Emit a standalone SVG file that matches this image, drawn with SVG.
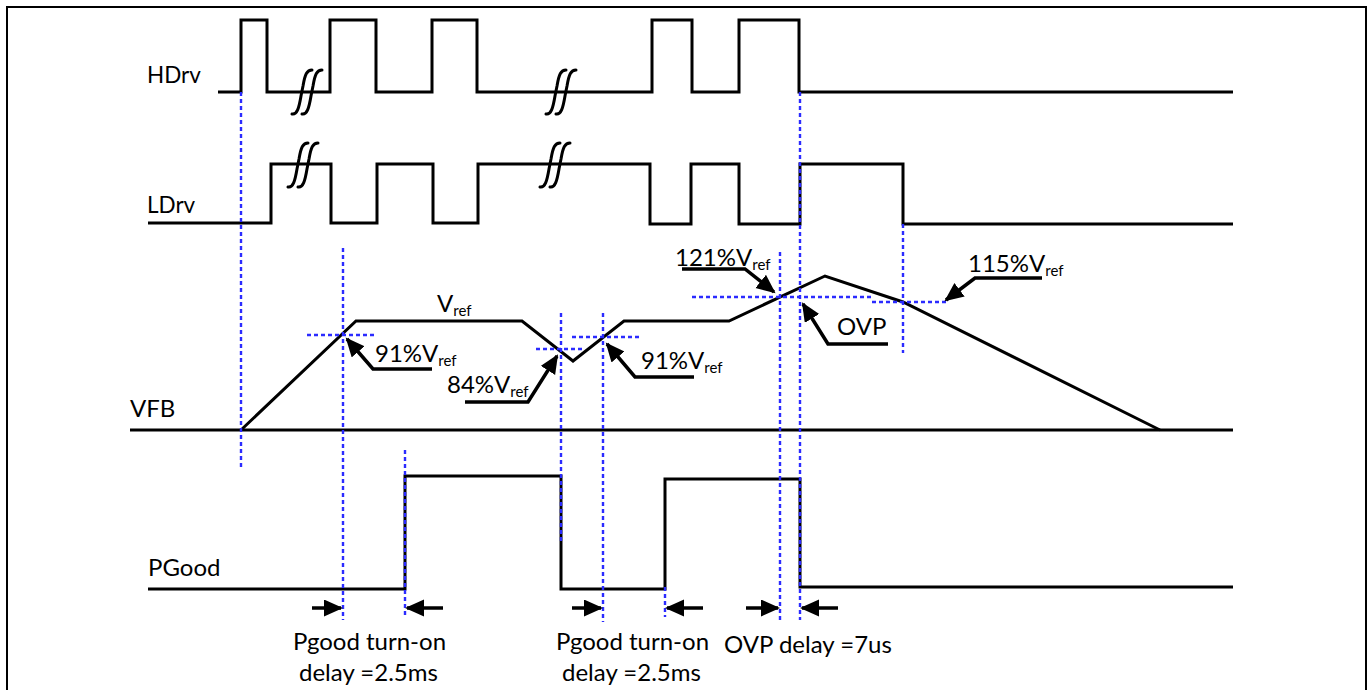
<svg xmlns="http://www.w3.org/2000/svg" width="1368" height="690" viewBox="0 0 1368 690">
<style>
.wave{fill:none;stroke:#000;stroke-width:3;stroke-linejoin:miter;stroke-linecap:butt}
.brk{fill:none;stroke:#000;stroke-width:3;stroke-linecap:round}
.guide{fill:none;stroke:#2b2bff;stroke-width:2.4;stroke-dasharray:4 3}
.arr{fill:none;stroke:#000;stroke-width:3.5;marker-end:url(#ah)}
.lbl{font-family:Lato,"Liberation Sans",sans-serif;font-size:22.5px;fill:#000}
.big{font-size:24px}
.pct{font-family:Lato,"Liberation Sans",sans-serif;font-size:24px;fill:#000}
.sub{font-size:15px}
</style>
<defs>
<marker id="ah" markerUnits="userSpaceOnUse" markerWidth="20" markerHeight="18" refX="17" refY="8.5" orient="auto">
<path d="M0,0 L19,8.5 L0,17 z" fill="#000"/>
</marker>
<path id="brk" d="M0,0 C5,1 7,-6 9,-18 L11,-28 C13,-40 15,-44 20,-44 M10,0 C15,1 17,-6 19,-18 L21,-28 C23,-40 25,-44 30,-44"/>
</defs>
<rect x="0" y="0" width="1368" height="690" fill="#fff"/>
<rect x="7" y="7" width="1359" height="700" fill="none" stroke="#000" stroke-width="2"/>

<g id="hdrv">
<text class="lbl" x="147" y="83">HDrv</text>
<polyline class="wave" points="218,92 241,92 241,20 267,20 267,92 330,92 330,20 376,20 376,92 432,92 432,20 477,20 477,92 652,92 652,20 692,20 692,92 739,92 739,20 799,20 799,92 1233,92"/>
<use href="#brk" class="brk" x="292" y="114"/>
<use href="#brk" class="brk" x="546" y="114"/>
</g>

<g id="ldrv">
<text class="lbl" x="147" y="213">LDrv</text>
<polyline class="wave" points="148,223 271,223 271,164 331,164 331,223 377,223 377,164 433,164 433,223 478,223 478,164 650,164 650,224 691,224 691,164 739,164 739,224 800,224 800,164 903,164 903,224 1233,224"/>
<use href="#brk" class="brk" x="288" y="187"/>
<use href="#brk" class="brk" x="540" y="187"/>
</g>

<g id="vfb">
<text class="lbl big" x="130" y="417">VFB</text>
<line class="wave" x1="130" y1="430" x2="1233" y2="430"/>
<polyline class="wave" points="241,430 356,321 522,321 573,361 624,321 729,321 825,276 903,302 1160,430"/>
<text class="pct" x="437" y="312">V<tspan class="sub" dy="4">ref</tspan></text>
</g>

<g id="pgood">
<text class="lbl big" x="148" y="576">PGood</text>
<polyline class="wave" points="148,589 405,589 405,476 561,476 561,589 665,589 665,479 800,479 800,587 1233,587"/>
</g>

<g id="guides">
<line class="guide" x1="241" y1="92" x2="241" y2="468"/>
<line class="guide" x1="343" y1="248" x2="343" y2="620"/>
<line class="guide" x1="405" y1="450" x2="405" y2="617"/>
<line class="guide" x1="561" y1="313" x2="561" y2="543"/>
<line class="guide" x1="603" y1="313" x2="603" y2="622"/>
<line class="guide" x1="665" y1="587" x2="665" y2="617"/>
<line class="guide" x1="780" y1="252" x2="780" y2="623"/>
<line class="guide" x1="800" y1="92" x2="800" y2="620"/>
<line class="guide" x1="903" y1="224" x2="903" y2="353"/>
<line class="guide" x1="307" y1="335" x2="375" y2="335"/>
<line class="guide" x1="536" y1="349" x2="583" y2="349"/>
<line class="guide" x1="572" y1="337" x2="641" y2="337"/>
<line class="guide" x1="692" y1="297" x2="873" y2="297"/>
<line class="guide" x1="872" y1="302" x2="948" y2="302"/>
</g>

<g id="connectors">
<polyline class="arr" points="432,369 373,369 347,339"/>
<polyline class="arr" points="465,402 528,402 557,356"/>
<polyline class="arr" points="694,377 635,377 607,344"/>
<polyline class="arr" points="682,269 745,269 774,292"/>
<polyline class="arr" points="888,344 828,344 803,304"/>
<polyline class="arr" points="1042,278 975,278 946,300"/>
<line class="arr" x1="312" y1="608" x2="341" y2="608"/>
<line class="arr" x1="443" y1="608" x2="407" y2="608"/>
<line class="arr" x1="572" y1="608" x2="601" y2="608"/>
<line class="arr" x1="703" y1="608" x2="667" y2="608"/>
<line class="arr" x1="746" y1="608" x2="778" y2="608"/>
<line class="arr" x1="838" y1="608" x2="802" y2="608"/>
</g>

<g id="labels">
<text class="pct" x="375" y="362">91%V<tspan class="sub" dy="4">ref</tspan></text>
<text class="pct" x="447" y="393">84%V<tspan class="sub" dy="4">ref</tspan></text>
<text class="pct" x="641" y="369">91%V<tspan class="sub" dy="4">ref</tspan></text>
<text class="pct" x="675" y="266">121%V<tspan class="sub" dy="4">ref</tspan></text>
<text class="pct" x="837" y="335">OVP</text>
<text class="pct" x="968" y="272">115%V<tspan class="sub" dy="4">ref</tspan></text>
<text class="lbl big" x="293" y="650">Pgood turn-on</text>
<text class="lbl big" x="299" y="681">delay =2.5ms</text>
<text class="lbl big" x="556" y="650">Pgood turn-on</text>
<text class="lbl big" x="562" y="681">delay =2.5ms</text>
<text class="lbl big" x="724" y="653">OVP delay =7us</text>
</g>
</svg>
